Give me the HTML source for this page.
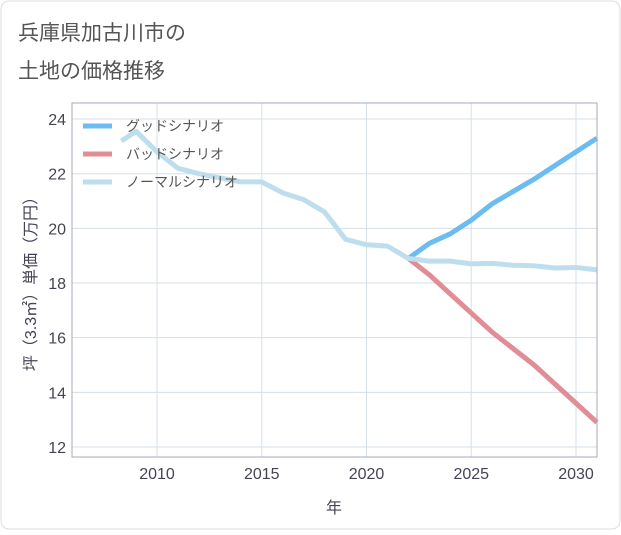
<!DOCTYPE html>
<html><head><meta charset="utf-8"><style>
body{margin:0;background:#fff;font-family:"Liberation Sans","Noto Sans CJK JP",sans-serif;}
#wrap{position:relative;width:621px;height:530px;}
</style></head><body>
<div id="wrap">
<svg id="chart" width="621" height="530">
<rect x="1" y="1" width="619" height="528" rx="8" fill="#fff" stroke="#ddd"/>
<text x="18" y="40" font-size="21" fill="#555">兵庫県加古川市の</text>
<text x="18" y="78" font-size="21" fill="#555">土地の価格推移</text>
<g id="grid"></g><g id="series"></g><g id="axes"></g>
<text transform="translate(36,280) rotate(-90)" text-anchor="middle" font-size="16" fill="#445">坪（3.3㎡）単価（万円）</text>
<text x="334" y="513" text-anchor="middle" font-size="16" fill="#445">年</text>
<g id="legend"></g>
</svg></div>
<script>
const xTicks=[2010,2015,2020,2025,2030];
const yTicks=[12,14,16,18,20,22,24];
const normalYears=[2008.3,2009,2010,2011,2012,2013,2014,2015,2016,2017,2018,2019,2020,2021,2022,2023,2024,2025,2026,2027,2028,2029,2030,2031];
const normalValues=[23.2,23.55,22.8,22.2,22.0,21.85,21.7,21.7,21.3,21.05,20.6,19.6,19.4,19.35,18.9,18.8,18.8,18.7,18.72,18.65,18.63,18.55,18.57,18.48];
const scenYears=[2022,2023,2024,2025,2026,2027,2028,2029,2030,2031];
const goodValues=[18.9,19.45,19.8,20.3,20.9,21.35,21.8,22.3,22.8,23.3];
const badValues=[18.9,18.3,17.6,16.9,16.2,15.6,15.0,14.3,13.6,12.9];
const seriesNames=["グッドシナリオ","バッドシナリオ","ノーマルシナリオ"];
const seriesColors=["#6bbcf0","#e08d95","#bfdeed"];
const L=72,R=597,T=103,B=457;
const x=v=>157+(v-2010)*20.95;
const y=v=>447-(v-12)*27.33;
const NS="http://www.w3.org/2000/svg";
function mk(tag,attrs,parent){const e=document.createElementNS(NS,tag);for(const k in attrs)e.setAttribute(k,attrs[k]);parent.appendChild(e);return e;}
const grid=document.getElementById('grid'),axes=document.getElementById('axes'),ser=document.getElementById('series'),leg=document.getElementById('legend');
xTicks.forEach(t=>{const l=mk('line',{x1:x(t),x2:x(t),y1:T,y2:B,stroke:'#d5dfe8'},grid);


const tx=mk('text',{x:x(t),y:479,'text-anchor':'middle','font-size':16,fill:'#445'},axes);tx.textContent=t;

});
yTicks.forEach(t=>{const l=mk('line',{x1:L,x2:R,y1:y(t),y2:y(t),stroke:'#d5dfe8'},grid);


const tx=mk('text',{x:66,y:y(t)+6,'text-anchor':'end','font-size':16,fill:'#445'},axes);tx.textContent=t;

});
const frame=mk('rect',{x:L,y:T,width:R-L,height:B-T,fill:'none',stroke:'#aab'},axes);


function line(xs,vs,c,name){const p=mk('polyline',{points:xs.map((v,i)=>x(v)+','+y(vs[i])).join(' '),fill:'none',stroke:c,'stroke-width':5,'stroke-linejoin':'round'},ser);

}
line(scenYears,badValues,seriesColors[1],'bad-scenario-line');
line(scenYears,goodValues,seriesColors[0],'good-scenario-line');
line(normalYears,normalValues,seriesColors[2],'normal-scenario-line');
seriesNames.forEach((n,i)=>{const yy=126+i*28;
const l=mk('line',{x1:83,x2:112,y1:yy,y2:yy,stroke:seriesColors[i],'stroke-width':5},leg);


const t=mk('text',{x:126,y:yy+5,'font-size':14,fill:'#555'},leg);t.textContent=n;

});
</script>
</body></html>
